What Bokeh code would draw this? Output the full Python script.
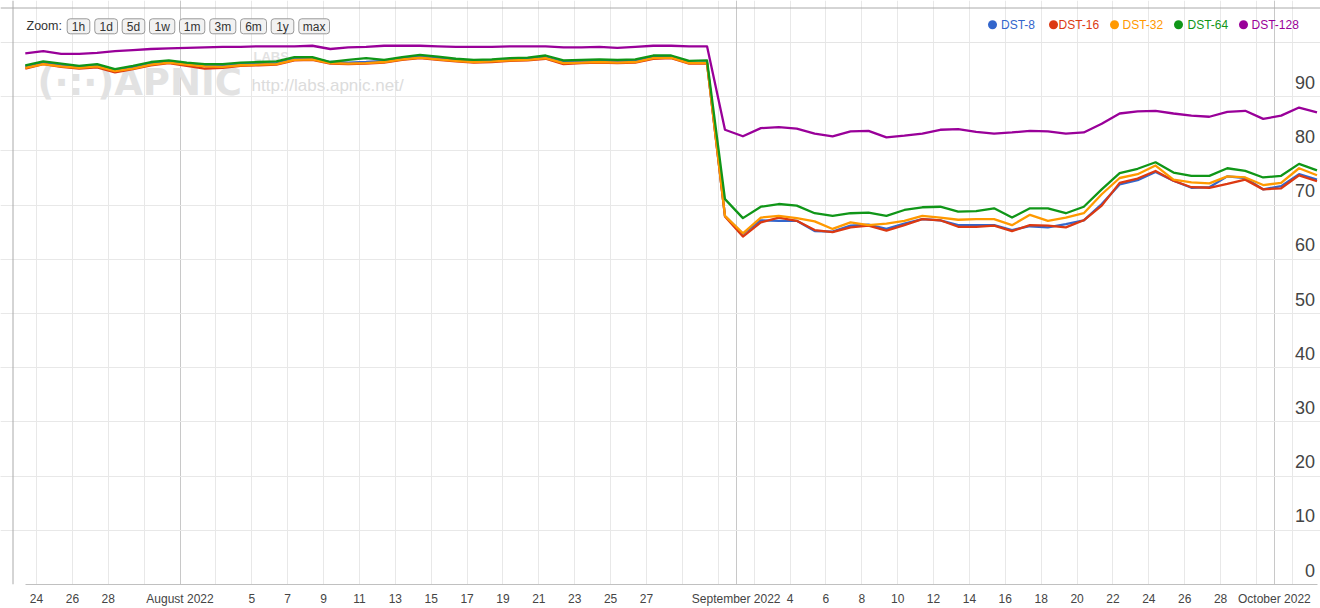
import pandas as pd
from bokeh.plotting import figure
from bokeh.models import Range1d, FixedTicker, Grid, Label, BoxAnnotation, ColumnDataSource, Span
from bokeh.embed import file_html
from bokeh.resources import INLINE
from bokeh.core.properties import value

# ---------------- data ----------------
start_time = "2022-07-23 09:00"
n_days = 73

series_names = ["DST-8", "DST-16", "DST-32", "DST-64", "DST-128"]

dst8 = [95.6, 96.3, 95.9, 95.5, 95.8, 94.8, 95.4, 96.1, 96.5, 96.1,
        95.8, 95.7, 96.0, 96.1, 96.2, 97.0, 97.1, 96.4, 96.3, 96.4,
        96.6, 97.1, 97.4, 97.1, 96.8, 96.6, 96.6, 96.8, 97.0, 97.3,
        96.4, 96.5, 96.6, 96.5, 96.6, 97.3, 97.3, 96.3, 96.3,
        68.0, 64.7, 67.2, 67.1, 67.1, 65.2, 65.1, 66.2, 66.4, 65.6,
        66.6, 67.4, 67.2, 66.3, 66.3, 66.3, 65.4, 66.1, 65.9, 66.5,
        67.2, 70.2, 73.8, 74.6, 76.1, 74.5, 73.2, 73.3, 75.3, 75.0,
        72.9, 73.5, 75.7, 74.7]

dst16 = [95.2, 96.0, 95.5, 95.2, 95.4, 94.5, 95.1, 95.8, 96.2, 95.7,
         95.2, 95.3, 95.7, 95.8, 95.9, 96.7, 96.8, 96.1, 96.0, 96.1,
         96.3, 96.8, 97.1, 96.8, 96.5, 96.3, 96.4, 96.6, 96.7, 97.0,
         96.0, 96.2, 96.3, 96.2, 96.3, 97.0, 97.1, 96.1, 96.1,
         67.9, 64.2, 66.8, 67.7, 67.1, 65.4, 65.0, 65.9, 66.2, 65.3,
         66.3, 67.4, 67.2, 66.0, 66.0, 66.2, 65.2, 66.3, 66.2, 65.9,
         67.2, 69.9, 74.1, 74.9, 76.3, 74.5, 73.3, 73.2, 73.9, 74.7,
         72.9, 73.1, 75.5, 74.4]

dst32 = [95.3, 96.0, 95.6, 95.3, 95.6, 94.7, 95.2, 95.9, 96.3, 95.9,
         95.6, 95.5, 95.8, 95.9, 96.0, 96.8, 96.9, 96.2, 96.1, 96.2,
         96.4, 96.9, 97.2, 96.9, 96.6, 96.4, 96.5, 96.7, 96.8, 97.1,
         96.2, 96.3, 96.4, 96.3, 96.4, 97.1, 97.2, 96.2, 96.2,
         68.0, 64.8, 67.7, 68.0, 67.6, 67.0, 65.6, 66.8, 66.3, 66.6,
         67.1, 68.0, 67.7, 67.3, 67.4, 67.4, 66.3, 68.2, 67.1, 67.7,
         68.5, 72.0, 75.0, 75.7, 77.3, 74.7, 74.2, 74.0, 75.3, 75.1,
         73.7, 74.1, 76.8, 75.5]

dst64 = [95.8, 96.5, 96.1, 95.7, 96.0, 95.1, 95.7, 96.4, 96.7, 96.3,
         96.0, 96.0, 96.3, 96.4, 96.5, 97.3, 97.3, 96.4, 96.8, 97.1,
         96.8, 97.3, 97.7, 97.4, 97.0, 96.8, 96.9, 97.1, 97.2, 97.6,
         96.7, 96.8, 96.9, 96.8, 96.9, 97.6, 97.6, 96.6, 96.7,
         71.1, 67.6, 69.7, 70.2, 69.9, 68.5, 68.0, 68.5, 68.6, 68.0,
         69.1, 69.6, 69.7, 68.8, 68.9, 69.4, 67.7, 69.4, 69.4, 68.5,
         69.7, 72.9, 75.9, 76.7, 77.9, 76.0, 75.4, 75.4, 76.8, 76.3,
         75.1, 75.4, 77.6, 76.4]

dst128 = [98.0, 98.4, 97.9, 97.9, 98.1, 98.4, 98.6, 98.8, 98.9, 99.0,
          99.1, 99.2, 99.2, 99.3, 99.3, 99.3, 99.4, 98.8, 99.1, 99.2,
          99.4, 99.4, 99.4, 99.3, 99.2, 99.2, 99.2, 99.3, 99.3, 99.3,
          99.1, 99.1, 99.2, 99.0, 99.2, 99.4, 99.4, 99.3, 99.3,
          83.9, 82.7, 84.2, 84.4, 84.1, 83.2, 82.7, 83.6, 83.7, 82.5,
          82.8, 83.2, 83.9, 84.0, 83.5, 83.2, 83.4, 83.7, 83.6, 83.2,
          83.4, 85.0, 86.9, 87.3, 87.4, 86.9, 86.5, 86.3, 87.2, 87.4,
          85.9, 86.5, 88.0, 87.1]

tick_dates = ["2022-07-24", "2022-07-26", "2022-07-28", "2022-07-30",
              "2022-08-01", "2022-08-03", "2022-08-05", "2022-08-07", "2022-08-09",
              "2022-08-11", "2022-08-13", "2022-08-15", "2022-08-17", "2022-08-19",
              "2022-08-21", "2022-08-23", "2022-08-25", "2022-08-27", "2022-08-29",
              "2022-08-31", "2022-09-01", "2022-09-02", "2022-09-04", "2022-09-06",
              "2022-09-08", "2022-09-10", "2022-09-12", "2022-09-14", "2022-09-16",
              "2022-09-18", "2022-09-20", "2022-09-22", "2022-09-24", "2022-09-26",
              "2022-09-28", "2022-09-30", "2022-10-01", "2022-10-02"]
tick_labels = ["24", "26", "28", "",
               "August 2022", "", "5", "7", "9",
               "11", "13", "15", "17", "19",
               "21", "23", "25", "27", "",
               "", "September 2022", "", "4", "6",
               "8", "10", "12", "14", "16",
               "18", "20", "22", "24", "26",
               "28", "", "October 2022", ""]
month_starts = ["2022-08-01", "2022-09-01", "2022-10-01"]

y_ticks = [0, 10, 20, 30, 40, 50, 60, 70, 80, 90]
y_tick_labels = ["0", "10", "20", "30", "40", "50", "60", "70", "80", "90"]
y_grid_ticks = [10, 20, 30, 40, 50, 60, 70, 80, 90]
y_max = 100

zoom_buttons = ["1h", "1d", "5d", "1w", "1m", "3m", "6m", "1y", "max"]

colors = ["#3366cc", "#dc3912", "#ff9900", "#109618", "#990099"]

# ---------------- build ----------------
dates = pd.date_range(start_time, periods=n_days, freq="D")


def ms(d):
    return float(pd.Timestamp(d).value // 10**6)


W, H = 1320, 608
# layout: plot area spans page x 24.8..1316.5 (first..last point) and y 42..584 (100..0)
PX0, PX1 = 24.8, 1316.5
PY0, PY100 = 584.0, 42.0
t0, t1 = ms(dates[0]), ms(dates[-1])
ms_per_px = (t1 - t0) / (PX1 - PX0)
x_lo = t0 - PX0 * ms_per_px
x_hi = t1 + (W - PX1) * ms_per_px
u_per_px = y_max / (PY0 - PY100)
y_hi = PY0 * u_per_px

p = figure(width=W, height=H, x_axis_type="datetime", y_axis_location=None,
           output_backend="svg", toolbar_location=None,
           x_range=Range1d(x_lo, x_hi), y_range=Range1d(0, y_hi),
           min_border_left=0, min_border_right=0, min_border_top=0, min_border_bottom=24)
p.outline_line_color = None
p.background_fill_color = "white"
p.border_fill_color = "white"

tick_ms = [ms(d) for d in tick_dates]
p.xaxis.ticker = FixedTicker(ticks=tick_ms)
p.xaxis.major_label_overrides = {t: l for t, l in zip(tick_ms, tick_labels)}
p.xaxis.bounds = (t0, t1)
p.xaxis.axis_line_color = "#c0c0c0"
p.xaxis.major_tick_line_color = None
p.xaxis.minor_tick_line_color = None
p.xaxis.major_tick_out = 0
p.xaxis.minor_tick_out = 0
p.xaxis.major_tick_in = 0
p.xaxis.minor_tick_in = 0
p.xaxis.major_label_standoff = 7
p.xaxis.major_label_text_font = "Liberation Sans"
p.xaxis.major_label_text_font_size = "12px"
p.xaxis.major_label_text_color = "#444444"

p.xgrid.ticker = FixedTicker(ticks=tick_ms)
p.xgrid.grid_line_color = "#e8e8e8"
p.xgrid.bounds = (0, y_max)
p.add_layout(Grid(dimension=0, ticker=FixedTicker(ticks=[ms(d) for d in month_starts]),
                  grid_line_color="#c8c8c8", bounds=(0, y_max)))
p.add_layout(Grid(dimension=1, ticker=FixedTicker(ticks=y_grid_ticks),
                  grid_line_color="#e8e8e8", bounds=(t0, t1)))


def sx(x):
    return x


def sy(y):
    return PY0 - y


# watermark
p.add_layout(Label(x=sx(37), y=sy(82), x_units="screen", y_units="screen", text="(·:·)APNIC",
                   text_font="DejaVu Sans", text_font_style="bold", text_font_size="37px",
                   text_color="#e2e2e2", text_baseline="alphabetic", level="underlay"))
p.add_layout(Label(x=sx(253), y=sy(56), x_units="screen", y_units="screen", text="LABS",
                   text_font="Liberation Sans", text_font_style="bold", text_font_size="13px",
                   text_color="#e2e2e2", text_baseline="alphabetic", level="underlay"))
p.add_layout(Label(x=sx(251), y=sy(85), x_units="screen", y_units="screen",
                   text="http://labs.apnic.net/",
                   text_font="Liberation Sans", text_font_size="17px",
                   text_color="#dcdcdc", text_baseline="alphabetic", level="underlay"))

# series
src = ColumnDataSource(dict(date=dates, dst8=dst8, dst16=dst16, dst32=dst32,
                            dst64=dst64, dst128=dst128))
for key, c in zip(["dst8", "dst16", "dst32", "dst64", "dst128"], colors):
    p.line(x="date", y=key, source=src, line_color=c, line_width=2.3, line_join="round")

# y labels inside the plot on the right
p.text(x=[dates[-1]] * len(y_ticks), y=y_ticks, text=y_tick_labels,
       text_align="right", text_baseline="bottom", x_offset=-2, y_offset=-8,
       text_font=value("Liberation Sans"), text_font_size="18px", text_color="#444444")

# outer border of the chart container (left and top edges)
p.add_layout(Span(location=sx(12.5), dimension="height", location_units="screen",
                  line_color="#aaaaaa", line_width=1, level="overlay"))
p.add_layout(Span(location=sy(7.5), dimension="width", location_units="screen",
                  line_color="#aaaaaa", line_width=1, level="overlay"))

# range selector
p.add_layout(Label(x=sx(26), y=sy(25.5), x_units="screen", y_units="screen", text="Zoom:",
                   text_font="Liberation Sans", text_font_size="12.5px", text_color="#333333",
                   text_baseline="middle", level="overlay"))
btn_x = [(66.7, 89.3), (94.3, 117), (121.7, 144.3), (149, 174.3), (179, 204.3),
         (209.3, 235.3), (240, 266), (270.7, 293.3), (298.3, 329)]
for (x0, x1), t in zip(btn_x, zoom_buttons):
    p.add_layout(BoxAnnotation(left=sx(x0), right=sx(x1), top=sy(18.3), bottom=sy(33.3),
                               left_units="screen", right_units="screen",
                               top_units="screen", bottom_units="screen",
                               fill_color="#f2f2f2", fill_alpha=1, line_color="#999999",
                               line_alpha=1, line_width=1, border_radius=3, level="overlay"))
for (x0, x1), t in zip(btn_x, zoom_buttons):
    p.add_layout(Label(x=sx((x0 + x1) / 2), y=sy(26), x_units="screen", y_units="screen",
                       text=t, text_font="Liberation Sans", text_font_size="12px",
                       text_color="#333333", text_align="center", text_baseline="middle",
                       level="overlay"))

# legend
leg_dot_x = [992, 1053, 1114, 1178, 1243]
leg_txt_x = [1000.5, 1058, 1122, 1187, 1251]
for name, c, dx, tx in zip(series_names, colors, leg_dot_x, leg_txt_x):
    p.add_layout(BoxAnnotation(left=sx(dx - 4.5), right=sx(dx + 4.5), top=sy(19.8), bottom=sy(28.8),
                               left_units="screen", right_units="screen",
                               top_units="screen", bottom_units="screen",
                               fill_color=c, fill_alpha=1, line_color=None,
                               border_radius=5, level="overlay"))
    p.add_layout(Label(x=sx(tx), y=sy(24.5), x_units="screen", y_units="screen", text=name,
                       text_font="Liberation Sans", text_font_size="12px",
                       text_color=c, text_baseline="middle", level="overlay"))

open("out.html", "w").write(file_html(p, INLINE))
